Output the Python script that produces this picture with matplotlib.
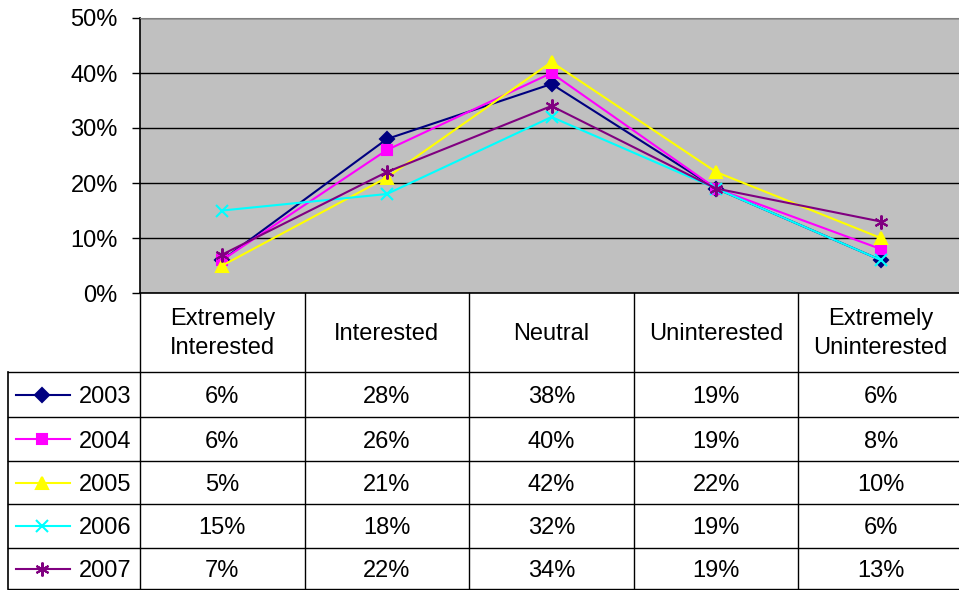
import matplotlib.pyplot as plt
from matplotlib.ticker import PercentFormatter

plt.rcParams['font.family'] = ['Liberation Sans', 'DejaVu Sans']

categories = ['Extremely\nInterested', 'Interested', 'Neutral', 'Uninterested', 'Extremely\nUninterested']
years = ['2003', '2004', '2005', '2006', '2007']
v2003 = [6, 28, 38, 19, 6]
v2004 = [6, 26, 40, 19, 8]
v2005 = [5, 21, 42, 22, 10]
v2006 = [15, 18, 32, 19, 6]
v2007 = [7, 22, 34, 19, 13]
series = [v2003, v2004, v2005, v2006, v2007]

colors = ['#000080', '#FF00FF', '#FFFF00', '#00FFFF', '#800080']
markers = ['D', 's', '^', 'x', (6, 2, 0)]
msizes = [7.5, 7.5, 9, 9, 10]

W, H = 959, 590
fig = plt.figure(figsize=(W / 100, H / 100), dpi=100)
fs = 17

# plot area in pixel terms
left, right, top, bottom = 140, 963, 18, 293
ax = fig.add_axes([left / W, 1 - bottom / H, (right - left) / W, (bottom - top) / H])
ax.set_facecolor('#C0C0C0')
x = list(range(len(categories)))
for vals, c, m, ms in zip(series, colors, markers, msizes):
    ax.plot(x, vals, color=c, lw=1.5, marker=m, markersize=ms, mew=1.5,
            markeredgecolor=c, markerfacecolor=c, clip_on=False, zorder=3)
ax.set_xlim(-0.5, len(categories) - 0.5)
ax.set_ylim(0, 50)
ax.set_yticks(range(0, 51, 10))
ax.yaxis.set_major_formatter(PercentFormatter(decimals=0))
ax.set_xticks([])
ax.grid(axis='y', color='black', lw=1)
ax.set_axisbelow(True)
ax.tick_params(axis='y', length=6, width=1, pad=10, labelsize=fs, colors='black')
ax.spines['top'].set_color('#808080')
ax.spines['right'].set_color('#808080')
ax.spines['left'].set_linewidth(1.2)
ax.spines['bottom'].set_linewidth(1.2)

# data table underneath
tax = fig.add_axes([0, 0, 1, 1])
tax.set_xlim(0, W)
tax.set_ylim(H, 0)
tax.axis('off')

colw = (right - left) / len(categories)
col_edges = [left + colw * k for k in range(len(categories) + 1)]
row_edges = [372, 417, 461, 504, 548, 589]
tab_left = 8

for xe in col_edges:
    tax.plot([xe, xe], [bottom, row_edges[-1]], color='black', lw=1)
tax.plot([tab_left, tab_left], [row_edges[0], row_edges[-1]], color='black', lw=1.2)
for ye in row_edges:
    tax.plot([tab_left, right], [ye, ye], color='black', lw=1)

for i, cat in enumerate(categories):
    cx = left + colw * (i + 0.5)
    tax.text(cx, (bottom + row_edges[0]) / 2 + 1, cat, ha='center', va='center',
             fontsize=fs, linespacing=1.42)

for r, (yr, vals, c, m, ms) in enumerate(zip(years, series, colors, markers, msizes)):
    cy = (row_edges[r] + row_edges[r + 1]) / 2
    tax.plot([16, 70], [cy, cy], color=c, lw=1.5)
    tax.plot([42], [cy], marker=m, markersize=ms, mew=1.5, color=c)
    tax.text(131, cy, yr, ha='right', va='center_baseline', fontsize=fs)
    for i, v in enumerate(vals):
        cx = left + colw * (i + 0.5)
        tax.text(cx, cy, f'{v}%', ha='center', va='center_baseline', fontsize=fs)

fig.savefig('out.png', dpi=100)
